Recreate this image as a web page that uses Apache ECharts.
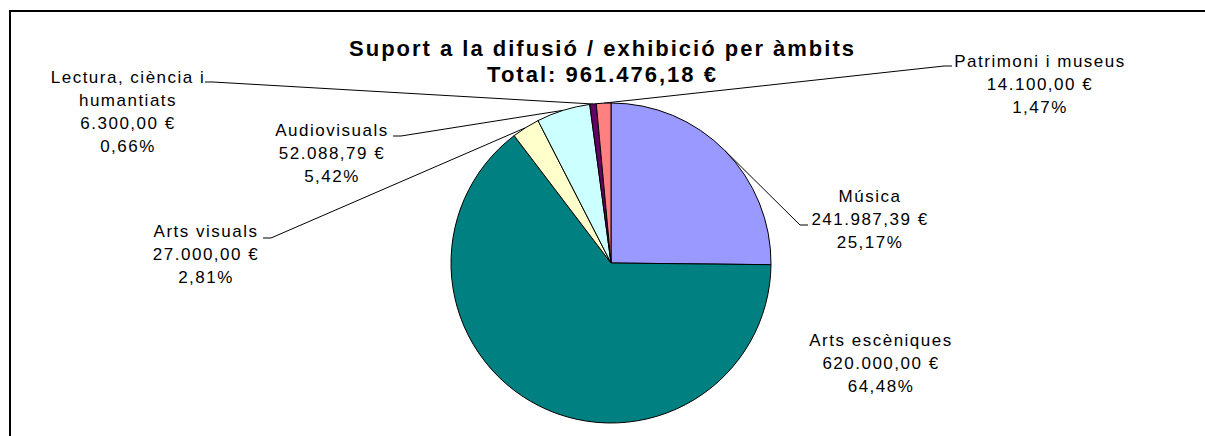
<!DOCTYPE html>
<html>
<head>
<meta charset="utf-8">
<title>Suport a la difusió / exhibició per àmbits</title>
<script src="https://cdn.jsdelivr.net/npm/echarts@6/dist/echarts.min.js"></script>
<style>
html, body { margin: 0; padding: 0; background: #fff; }
#chart { width: 1205px; height: 436px; }
/* the original text is drawn wide, spread it a little */
#chart text { letter-spacing: 1.5px; }
#chart text[style*="bold"] { letter-spacing: 2px; }
</style>
</head>
<body>
<div id="chart"></div>
<script>
var categories = ['Música', 'Arts escèniques', 'Arts visuals', 'Audiovisuals', 'Lectura, ciència i\nhumantiats', 'Patrimoni i museus'];
var amounts = [241987.39, 620000.00, 27000.00, 52088.79, 6300.00, 14100.00];
var sliceColors = ['#9999FF', '#008080', '#FFFFCC', '#CCFFFF', '#660066', '#FF8080'];

// where each label sits, and where its leader line stops (lx/ly)
var labelSpots = [
    {x: 870, y: 219, lx: 808, ly: 225},
    {x: 881, y: 363},
    {x: 206, y: 254, lx: 263, ly: 238},
    {x: 332, y: 153, lx: 393, ly: 136},
    {x: 128, y: 112, lx: 205, ly: 82},
    {x: 1040, y: 84, lx: 952, ly: 66}
];

var FONT = "'Liberation Sans', Arial, sans-serif";
var pieCenter = [611, 263];
var pieRadius = 160;

function fmtNum(v) {
    var parts = v.toFixed(2).split('.');
    parts[0] = parts[0].replace(/\B(?=(\d{3})+(?!\d))/g, '.');
    return parts[0] + ',' + parts[1];
}

var total = 0;
amounts.forEach(function (v) { total += v; });

var pieData = [];
categories.forEach(function (name, i) {
    var item = {name: name, value: amounts[i], itemStyle: {color: sliceColors[i]}};
    if (labelSpots[i].lx == null) {
        item.labelLine = {show: false};
    }
    pieData.push(item);
});

// edge point at the middle angle of a slice (used if echarts gives none)
function edgePoint(idx) {
    var before = 0;
    for (var i = 0; i < idx; i++) before += amounts[i];
    var mid = (before + amounts[idx] / 2) / total * Math.PI * 2;
    return [pieCenter[0] + pieRadius * Math.sin(mid), pieCenter[1] - pieRadius * Math.cos(mid)];
}

var chart = echarts.init(document.getElementById('chart'), null, {renderer: 'svg'});
var option = {
    backgroundColor: '#fff',
    animation: false,
    title: {
        text: 'Suport a la difusió / exhibició per àmbits\nTotal: ' + fmtNum(total) + ' €',
        left: 'center',
        top: 30,
        textStyle: {
            fontFamily: FONT,
            fontSize: 22,
            fontWeight: 'bold',
            color: '#000',
            lineHeight: 26
        }
    },
    graphic: [{
        type: 'rect',
        shape: {x: 10, y: 11, width: 1300, height: 500},
        style: {fill: 'none', stroke: '#000', lineWidth: 2},
        silent: true
    }],
    series: [{
        type: 'pie',
        center: pieCenter,
        radius: pieRadius,
        startAngle: 90,
        clockwise: true,
        avoidLabelOverlap: false,
        data: pieData,
        itemStyle: {borderColor: '#000', borderWidth: 1},
        label: {
            show: true,
            position: 'outside',
            fontFamily: FONT,
            fontSize: 17,
            color: '#000',
            lineHeight: 23,
            align: 'center',
            formatter: function (p) {
                var pct = (p.value / total * 100).toFixed(2).replace('.', ',');
                return p.name + '\n' + fmtNum(p.value) + ' €\n' + pct + '%';
            }
        },
        labelLine: {
            show: true,
            length: 10,
            length2: 10,
            lineStyle: {color: '#000', width: 1}
        },
        labelLayout: function (params) {
            var spot = labelSpots[params.dataIndex];
            var out = {x: spot.x, y: spot.y, align: 'center', verticalAlign: 'middle'};
            if (spot.lx != null) {
                var start = (params.labelLinePoints && params.labelLinePoints[0]) || edgePoint(params.dataIndex);
                var bend = spot.lx + (spot.lx < spot.x ? -8 : 8);
                out.labelLinePoints = [start, [bend, spot.ly], [spot.lx, spot.ly]];
            }
            return out;
        }
    }]
};
chart.setOption(option);
</script>
</body>
</html>
